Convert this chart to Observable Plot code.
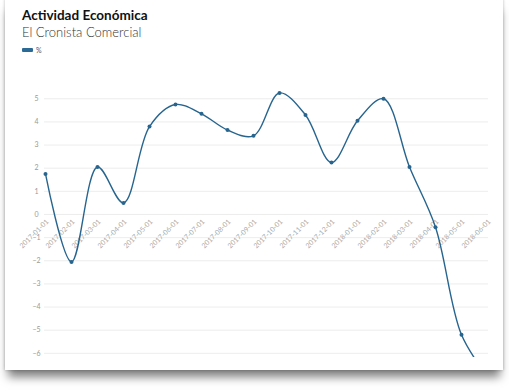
<!DOCTYPE html>
<html>
<head>
<meta charset="utf-8">
<script src="https://cdn.jsdelivr.net/npm/d3@7"></script>
<script src="https://cdn.jsdelivr.net/npm/@observablehq/plot@0.6"></script>
<style>
  html, body { margin: 0; padding: 0; background: #fff; width: 509px; height: 392px; overflow: hidden; }
  #card {
    position: absolute; left: 5px; top: -2px; width: 498px; height: 372px;
    background: #fff;
    box-shadow: 0 10px 9px -3px rgba(0,0,0,0.5), 0 0 3px rgba(0,0,0,0.25);
  }
  #title { position: absolute; left: 22px; top: 7px; font-family: "Lato", sans-serif; font-weight: 700; font-size: 13.5px; line-height: 16px; color: #111; }
  #subtitle { position: absolute; left: 22px; top: 24px; font-family: "Lato", sans-serif; font-weight: 300; font-size: 13px; line-height: 16px; color: #333; }
  #legend { position: absolute; left: 22px; top: 46px; font-family: "Lato", sans-serif; font-size: 7px; color: #555; display: flex; align-items: center; }
  #legend .sw { width: 11px; height: 4px; background: #2b6a94; border-radius: 1px; margin-right: 3px; }
  #chart { position: absolute; left: 0; top: 0; }
</style>
</head>
<body>
<div id="card"></div>
<div id="title">Actividad Económica</div>
<div id="subtitle">El Cronista Comercial</div>
<div id="legend"><div class="sw"></div><span>%</span></div>
<div id="chart"></div>
<script>
const months = ["2017-01-01","2017-02-01","2017-03-01","2017-04-01","2017-05-01","2017-06-01","2017-07-01","2017-08-01","2017-09-01","2017-10-01","2017-11-01","2017-12-01","2018-01-01","2018-02-01","2018-03-01","2018-04-01","2018-05-01","2018-06-01"];
const values = [1.75, -2.05, 2.05, 0.5, 3.8, 4.75, 4.35, 3.65, 3.4, 5.25, 4.3, 2.25, 4.05, 5.0, 2.05, -0.55, -5.2, -7.0];
const yTicks = [-6, -5, -4, -3, -2, -1, 0, 1, 2, 3, 4, 5];

const data = months.map((m, i) => ({month: m, value: values[i]}));
const color = "#27658f";

const chart = Plot.plot({
  width: 509,
  height: 392,
  marginLeft: 44,
  marginRight: 21,
  marginTop: 86.7,
  marginBottom: 35,
  style: {background: "transparent", fontFamily: "Lato, sans-serif"},
  x: {type: "point", domain: months, padding: 0, axis: null},
  y: {domain: [-6.18, 5.5], axis: null},
  marks: [
    Plot.gridY(yTicks, {stroke: "#e8e8e8", strokeOpacity: 1, strokeWidth: 0.8}),
    Plot.axisY(yTicks, {label: null, tickSize: 0, tickPadding: 6, fontSize: 7, fill: "#999", textAnchor: "middle", dx: -2}),
    Plot.text(months, {x: d => d, y: () => 0, text: d => d, rotate: -45, textAnchor: "end", fontSize: 7, fill: "#aaa", dx: 2, dy: 6}),
    Plot.line(data, {x: "month", y: "value", curve: "catmull-rom", stroke: color, strokeWidth: 1.4, clip: true}),
    Plot.dot(data.slice(0, 17), {x: "month", y: "value", r: 2, fill: color})
  ]
});
document.getElementById("chart").appendChild(chart);
</script>
</body>
</html>
